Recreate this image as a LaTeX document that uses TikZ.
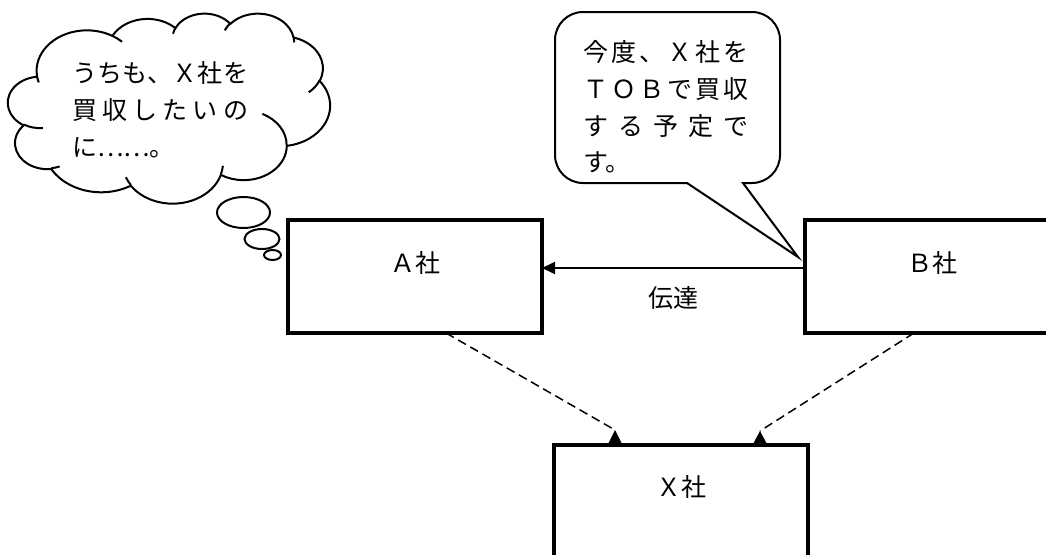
\documentclass[tikz,border=0pt]{standalone}
\usepackage{fontspec}
\setmainfont{Noto Sans CJK JP}
\usetikzlibrary{arrows.meta}
\usetikzlibrary{positioning}
\usetikzlibrary{shapes.geometric}

\newcommand{\spreadline}[2]{\makebox[#1][s]{#2}}

\begin{document}
\begin{tikzpicture}[x=1pt, y=-1pt]
      \tikzset{
        every node/.style={font=\fontsize{25}{37}\selectfont},
        firm/.style={draw, line width=3.5pt, fill=white, inner sep=0pt, outer sep=0pt,
          minimum width=254pt, text height=52pt, text depth=61pt},
        puff/.style={draw, ellipse, line width=2pt, inner sep=0pt},
        notice/.style={line width=1.8pt, -{Triangle[length=13pt, width=12pt]}},
        claim/.style={line width=1.5pt, dash pattern=on 9pt off 5pt},
        lobe/.style={line width=2pt, line join=round},
      }
      \useasboundingbox (0,0) rectangle (1046,554);

      % companies
      \node[firm, anchor=base] (asha) at (415,272) {Ａ社};
      \node[firm, right=263pt of asha] (bsha) {Ｂ社};
      \node[firm, anchor=north, text height=51pt, text depth=62pt] (xsha) at (681,445) {Ｘ社};

      \draw[notice] ([yshift=8.5pt]bsha.west) -- node[below=14pt] (relay) {伝達} ([yshift=8.5pt]asha.east);

      \coordinate (atip) at ([xshift=-66pt, yshift=15pt]xsha.north);
      \coordinate (btip) at ([xshift=79pt, yshift=14pt]xsha.north);
      \draw[claim] ([xshift=31pt]asha.south) -- (atip);
      \draw[claim] ([xshift=-18pt]bsha.south) -- (btip);
      \fill (atip) -- ++(-8,16) -- ++(16,0) -- cycle;
      \fill (btip) -- ++(-8,15) -- ++(16,0) -- cycle;

      % thought of A (cloud in a 4320 x 4320 frame)
      \begin{scope}[shift={(8,13)}, x=0.07454pt, y=-0.04398pt]
        \draw[lobe, fill=white] (390,1437)
          \foreach \rw/\rh/\st/\sw
            [evaluate=\st as \ta using {atan2(\rw*sin(\st),\rh*cos(\st))},
             evaluate=\sw as \tb using {atan2(\rw*sin(\st+\sw),\rh*cos(\st+\sw))},
             evaluate=\tb as \dd using {(\tb-\ta)-360*round(((\tb-\ta)-\sw)/360)}]
            in {675.3/919/-190.4875/123.7805, 533.3/726.7/-144.1024/89.9452,
                436.5/594.5/-145.8079/99.7230, 485.7/659.5/-130.9861/117.2417,
                533.3/727.3/-78.7089/109.0269, 677.5/922/-46.2673/130.2690,
                578.5/786.7/0.6250/114.0333, 675.2/921.5/22.4516/115.1726,
                772/1054.3/66.2426/75.7110, 436/591.8/-274.9421/146.7356,
                434.5/594.5/-246.8285/152.5189}
            { arc[x radius=\rw, y radius=\rh, start angle=\ta, delta angle=\dd] }
          -- cycle;
        \foreach \px/\py/\rw/\rh/\st/\sw
            [evaluate=\st as \ta using {atan2(\rw*sin(\st),\rh*cos(\st))},
             evaluate=\sw as \tb using {atan2(\rw*sin(\st+\sw),\rh*cos(\st+\sw))},
             evaluate=\tb as \dd using {(\tb-\ta)-360*round(((\tb-\ta)-\sw)/360)}]
            in {469.3/2617.7/434.5/594.5/86.7420/26.4295,
                692.8/3489.9/436/591.8/73.6105/11.4475,
                1647.8/3909/675.2/921.5/137.6242/14.0811,
                2882.7/3475.1/675.2/921.5/6.4533/15.9984,
                3412.9/2295.4/578.5/786.7/-70.2924/70.9174,
                4179.8/1535.4/533.3/727.3/30.3180/27.7515,
                3832.4/542.6/485.7/659.5/-13.7443/14.8589,
                2907.8/395.2/485.7/659.5/-149.1815/18.1954,
                2214.1/472/436.5/594.5/-163.4943/17.6864,
                1400/519.2/675.3/919/-66.7070/12.3194,
                412.7/1578.9/675.3/919/157.6544/11.8582}
          \draw[lobe] (\px,\py) arc[x radius=\rw, y radius=\rh, start angle=\ta, delta angle=\dd];
      \end{scope}
      \node[align=left] (wish) at (160,109.5) {%
        \spreadline{176pt}{う\hfill ち\hfill も\hfill 、\hfill Ｘ\hfill 社\hfill を}\\
        \spreadline{176pt}{買\hfill 収\hfill し\hfill た\hfill い\hfill の}\\
        に……。};
      \node[puff, minimum width=53pt, minimum height=31pt] (dot1) at (243.5,212.5) {};
      \node[puff, minimum width=35pt, minimum height=20pt] (dot2) at (262,239) {};
      \node[puff, minimum width=17pt, minimum height=10pt] (dot3) at (272.5,255) {};

      % words of B
      \draw[line width=2pt, rounded corners=28pt] (743,183) -- (780,183) -- (780,12)
        -- (555,12) -- (555,183) [sharp corners] -- (687,183) -- (798,257) -- cycle;
      \node[align=left, font=\fontsize{25}{36.7}\selectfont] (plan) at (665.5,107) {%
        \spreadline{165pt}{今\hfill 度\hfill 、\hfill Ｘ\hfill 社\hfill を}\\
        \spreadline{165pt}{Ｔ\hfill Ｏ\hfill Ｂ\hfill で\hfill 買\hfill 収}\\
        \spreadline{165pt}{す\hfill る\hfill 予\hfill 定\hfill で}\\
        す。};
\end{tikzpicture}
\end{document}
